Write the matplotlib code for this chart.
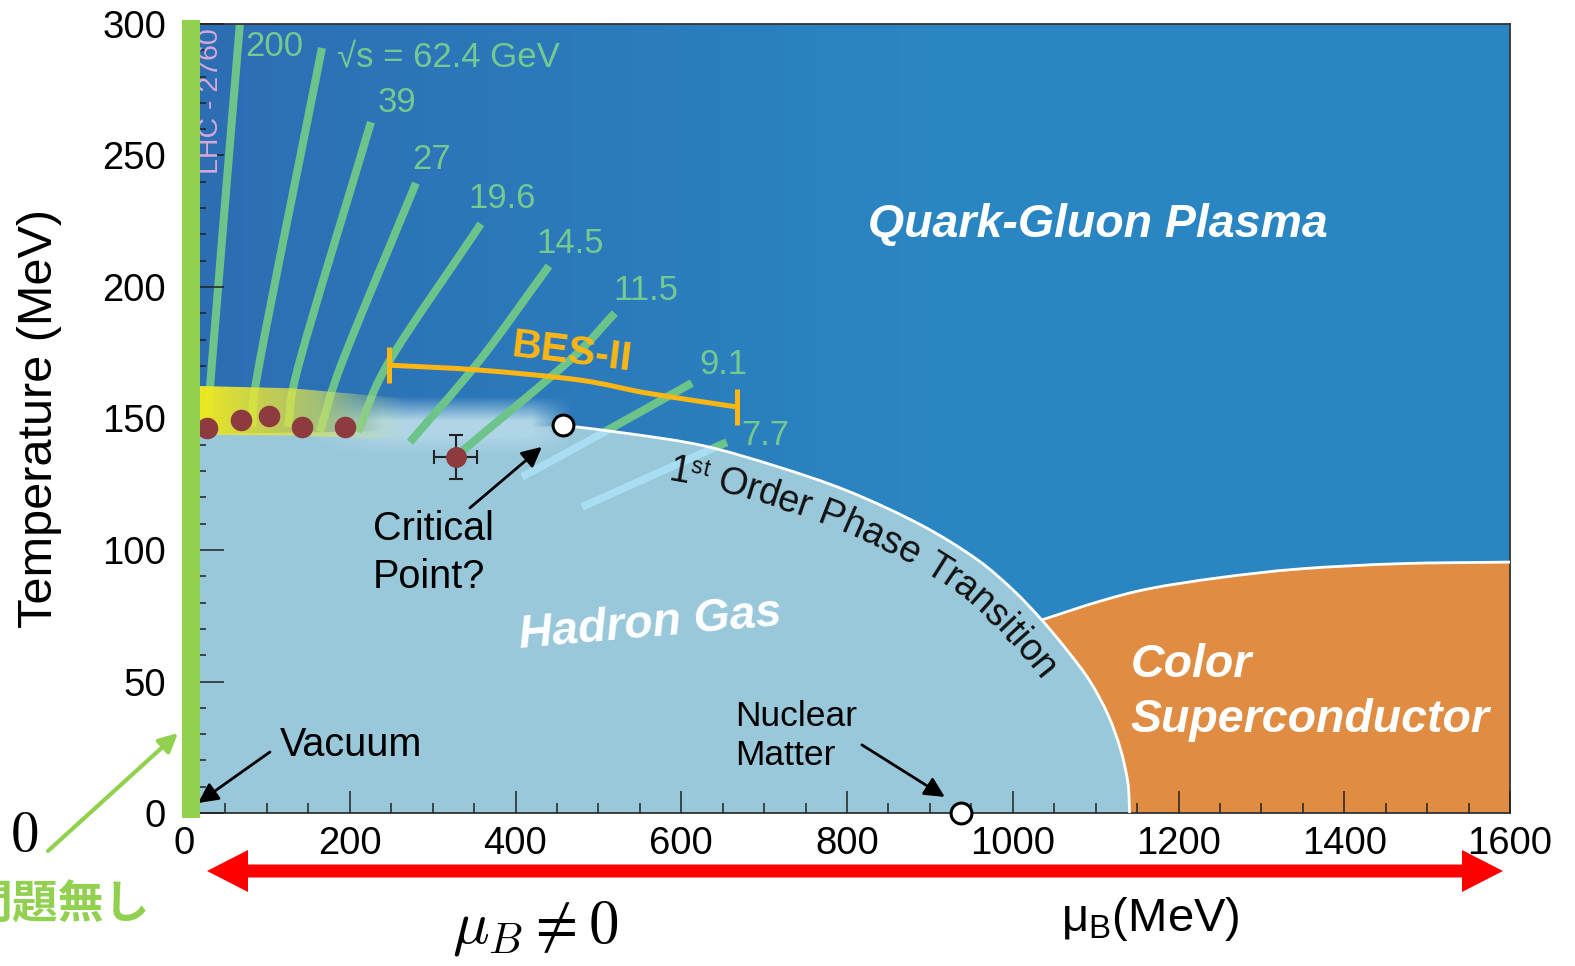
import numpy as np
import matplotlib
matplotlib.use('Agg')
import matplotlib.pyplot as plt
from matplotlib.patches import Polygon, Rectangle, FancyArrow, PathPatch
from matplotlib.path import Path
from matplotlib.ticker import MultipleLocator
from matplotlib.font_manager import FontProperties
from matplotlib.colors import to_rgb

plt.rcParams['font.family'] = ['Liberation Sans', 'DejaVu Sans']

# ---- values (mu_B and T in MeV) ----
# freeze-out trajectories of the beam energy scan, points bottom -> top
line_labels = ['200', '√s = 62.4 GeV', '39', '27', '19.6', '14.5', '11.5', '9.1', '7.7']
line_mu = [[29, 34, 67.6], [82, 91.7, 166.5], [125.5, 140, 225.6], [164, 191.8, 279.9],
           [209.9, 248.5, 358.3], [272.6, 357, 440.3], [333, 465.6, 519.9],
           [407.7, 489.7, 612.8], [480, 567.5, 655]]
line_T = [[149.4, 172.2, 300.8], [146.8, 172.2, 290.9], [146.8, 172.2, 262.7], [144.9, 172.2, 239.5],
          [144.9, 172.2, 224], [141, 172.2, 208], [136.9, 172.2, 190.1],
          [127.8, 141.8, 163.5], [116.3, 128.7, 141]]
label_mu = [73.6, 184.6, 234, 275, 342.6, 424.6, 518.7, 622.4, 673]
label_T = [291.3, 287.5, 270, 248.3, 233.8, 216.7, 198.5, 170.7, 143.7]

# crossover (mu < critical point) and first order line
cross_mu = [0, 200, 440]
cross_T = [144, 145, 147]
phase_mu = [455, 538, 626, 714, 802, 890, 956, 1000, 1035, 1066, 1093, 1115, 1130, 1139, 1141]
phase_T = [147.5, 144.2, 139.7, 131.9, 122.3, 109.4, 96.6, 84.9, 73.4, 61.7, 50.2, 37.3, 24.3,
           11.4, 0]
# upper edge of the colour superconductor
csc_mu = [1035, 1105, 1165, 1250, 1346, 1467, 1600]
csc_T = [73.4, 80.5, 85.3, 89.5, 92.8, 94.8, 95.4]

# freeze-out points
fo_mu = [27.7, 68.8, 102.5, 142.3, 194.2]
fo_T = [146.4, 149.4, 151, 146.8, 146.8]
est_mu, est_T, est_xerr, est_yerr = 328, 135.4, 26, 8.4
crit_mu, crit_T = 457, 147.5
nuc_mu, nuc_T = 938, 0

# BES-II range bracket
bes_mu = [247, 357, 478, 558, 667]
bes_T = [170.3, 168.4, 164.6, 159.7, 154.4]

blue_qgp = '#2A86C2'
blue_hg = '#99C8DB'
orange = '#E08C42'
green = '#6CC48A'
green_txt = '#74C98F'
lime = '#92D050'
gold = '#FBB614'


def smooth(mu, T):
    # Catmull-Rom spline through the read points, as Bezier segments
    p = np.column_stack([mu, T]).astype(float)
    ext = np.vstack([2 * p[0] - p[1], p, 2 * p[-1] - p[-2]])
    verts, codes = [p[0]], [Path.MOVETO]
    for i in range(len(p) - 1):
        p0, p1, p2, p3 = ext[i], ext[i + 1], ext[i + 2], ext[i + 3]
        verts += [p1 + (p2 - p0) / 6, p2 - (p3 - p1) / 6, p2]
        codes += [Path.CURVE4] * 3
    return verts, codes


fig = plt.figure(figsize=(15.75, 9.66), dpi=100)
ax = fig.add_axes([184 / 1575, 1 - 813 / 966, (1510 - 184) / 1575, (813 - 24) / 966])

# background of the QGP: a bit darker at small mu
w = np.clip(np.linspace(0, 1600, 400) / 900, 0, 1)
c0, c1 = np.array(to_rgb('#2D6DB4')), np.array(to_rgb(blue_qgp))
bg = c0[None, :] * (1 - w[:, None]) + c1[None, :] * w[:, None]
ax.imshow(bg[None, :, :], extent=[0, 1600, 0, 300], origin='lower', aspect='auto', zorder=0)

# colour superconductor (its left side is hidden under the hadron gas)
cv, cc = smooth(csc_mu, csc_T)
cv += [(1600, 0), (1000, 0), (1000, csc_T[0]), (0, 0)]
cc += [Path.LINETO, Path.LINETO, Path.LINETO, Path.CLOSEPOLY]
ax.add_patch(PathPatch(Path(cv, cc), facecolor=orange, edgecolor='none', zorder=0.9))

# hadron gas
pv, pc = smooth(phase_mu, phase_T)
hv = list(zip(cross_mu, cross_T)) + pv + [(0, 0), (0, 0)]
hc = [Path.MOVETO] + [Path.LINETO] * (len(cross_mu) - 1) + [Path.LINETO] + pc[1:] + \
     [Path.LINETO, Path.CLOSEPOLY]
ax.add_patch(PathPatch(Path(hv, hc), facecolor=blue_hg, edgecolor='none', zorder=1))

# soft crossover haze
hz_mu = np.linspace(150, 470, 160)
hz_T = np.linspace(136, 160, 120)
a_T = np.interp(hz_T, [136, 143, 149, 158], [0, 1, 1, 0])
a_mu = np.interp(hz_mu, [150, 240, 420, 470], [0, 1, 1, 0])
haze = np.zeros((len(hz_T), len(hz_mu), 4))
haze[..., :3] = to_rgb('#B0D5E6')
haze[..., 3] = a_T[:, None] * a_mu[None, :]
ax.imshow(haze, extent=[150, 470, 136, 160], origin='lower', aspect='auto', zorder=1.5,
          interpolation='bilinear')

# freeze-out lines
cv2, cc2 = smooth(phase_mu, phase_T)
clip_path = Path([(380, 0), (380, 147)] + cv2 + [(380, 0)],
                 [Path.MOVETO, Path.LINETO, Path.LINETO] + cc2[1:] + [Path.CLOSEPOLY])
clip_patch = PathPatch(clip_path, transform=ax.transData)
for mu, T in zip(line_mu, line_T):
    v, c = smooth(mu, T)
    ax.add_patch(PathPatch(Path(v, c), fill=False, edgecolor=green, lw=5.8, capstyle='butt',
                           zorder=2))
    lb = ax.add_patch(PathPatch(Path(v, c), fill=False, edgecolor='#A8DDF3', lw=5.8,
                                capstyle='butt', zorder=2.2))
    lb.set_clip_path(clip_patch)
for lab, m, t in zip(line_labels, label_mu, label_T):
    ax.text(m, t, lab, color=green_txt, fontsize=25, ha='left', va='center', zorder=6)
ax.text(32.6, 270.7, 'LHC - 2760', color='#D6A8D8', fontsize=20.5, rotation=90,
        ha='center', va='center', zorder=6)

# yellow band of the crossover
yb_mu = np.linspace(0, 270, 200)
yb = np.zeros((1, len(yb_mu), 4))
for k, (ca, cb, cd) in enumerate(zip(to_rgb('#F5EE18'), to_rgb('#E6E540'), to_rgb('#C0E6A0'))):
    yb[0, :, k] = np.interp(yb_mu, [0, 120, 270], [ca, cb, cd])
yb[0, :, 3] = np.interp(yb_mu, [0, 40, 160, 270], [1, 0.93, 0.68, 0])
im = ax.imshow(yb, extent=[0, 270, 140, 164], origin='lower', aspect='auto', zorder=3,
               interpolation='bilinear')
band = Polygon([(0, 162.5), (130, 161.5), (270, 157.5), (270, 142), (130, 143.5), (0, 144)],
               closed=True, transform=ax.transData)
im.set_clip_path(band)

ax.set_xlim(0, 1600)
ax.set_ylim(0, 300)

# phase boundaries
ax.add_patch(PathPatch(Path(*smooth(phase_mu, phase_T)), fill=False, edgecolor='white', lw=2,
                       zorder=4))
ax.add_patch(PathPatch(Path(*smooth(csc_mu, csc_T)), fill=False, edgecolor='white', lw=2,
                       zorder=4))

# BES-II bracket
ax.add_patch(PathPatch(Path(*smooth(bes_mu, bes_T)), fill=False, edgecolor=gold, lw=3.6,
                       zorder=4.5))
for m, t in [(bes_mu[0], bes_T[0]), (bes_mu[-1], bes_T[-1])]:
    ax.plot([m, m], [t - 6.8, t + 6.8], color=gold, lw=3.6, solid_capstyle='butt', zorder=4.5)
ax.text(468, 175.3, 'BES-II', color=gold, fontsize=29.5, fontweight='bold', rotation=-7,
        ha='center', va='center', zorder=6)

# points
ax.plot(fo_mu, fo_T, 'o', color='#8E3B3F', ms=14.5, zorder=5)
ax.errorbar(est_mu, est_T, xerr=est_xerr, yerr=est_yerr, fmt='o', ms=14, color='#8E3B3F',
            ecolor='#222222', elinewidth=1.5, capsize=5, capthick=1.5, zorder=5)
ax.plot([crit_mu, nuc_mu], [crit_T, nuc_T], 'o', ms=15, mfc='white', mec='black', mew=2.2,
        zorder=5.5, clip_on=False)

# region names
ax.text(1103, 223.5, 'Quark-Gluon Plasma', color='white', fontsize=33.5, fontweight='bold',
        style='italic', ha='center', va='center', zorder=6)
ax.text(562, 71.5, 'Hadron Gas', color='white', fontsize=33.5, fontweight='bold',
        style='italic', rotation=5, ha='center', va='center', zorder=6)
ax.text(1142, 56.3, 'Color', color='white', fontsize=33.5, fontweight='bold',
        style='italic', ha='left', va='center', zorder=6)
ax.text(1142, 35.4, 'Superconductor', color='white', fontsize=33.5, fontweight='bold',
        style='italic', ha='left', va='center', zorder=6)

# pointers
arrow = dict(arrowstyle='-|>', color='black', lw=2, mutation_scale=30, shrinkA=0, shrinkB=0)
ax.text(228, 108, 'Critical', fontsize=28.5, ha='left', va='center', zorder=6)
ax.text(228, 89.7, 'Point?', fontsize=28.5, ha='left', va='center', zorder=6)
ax.annotate('', xy=(431.8, 139.2), xytext=(345, 116), arrowprops=arrow, zorder=6)
ax.text(115.8, 25.9, 'Vacuum', fontsize=28.5, ha='left', va='center', zorder=6)
ax.annotate('', xy=(16.9, 3.8), xytext=(103.7, 23.2), arrowprops=arrow, zorder=6)
ax.text(664.7, 36.6, 'Nuclear', fontsize=25.5, ha='left', va='center', zorder=6)
ax.text(664.7, 22, 'Matter', fontsize=25.5, ha='left', va='center', zorder=6)
ax.annotate('', xy=(918, 6.1), xytext=(818, 25.9), arrowprops=arrow, zorder=6)

# axes styling
ax.xaxis.set_major_locator(MultipleLocator(200))
ax.xaxis.set_minor_locator(MultipleLocator(50))
ax.yaxis.set_major_locator(MultipleLocator(50))
ax.yaxis.set_minor_locator(MultipleLocator(10))
ax.set_axisbelow(False)
ax.tick_params(which='both', direction='in', color='#222222', width=1.1, top=False, right=False)
ax.tick_params(axis='x', which='major', length=16, pad=9, labelsize=27.5)
ax.tick_params(axis='x', which='minor', length=7)
ax.tick_params(axis='y', which='major', length=29, pad=13, labelsize=27.5)
ax.tick_params(axis='y', which='minor', length=16)
for side in ['top', 'right', 'bottom', 'left']:
    ax.spines[side].set_color('#333333')
    ax.spines[side].set_linewidth(1.3)
ax.set_ylabel('Temperature (MeV)', fontsize=35, va='center')
ax.yaxis.set_label_coords(-0.1086, 0.5)
ax.set_xlabel('μ$_{\\mathregular{B}}$(MeV)', fontsize=34, va='center')
ax.xaxis.set_label_coords(0.7285, -0.134)

# green bar on the T axis (mu_B = 0)
ax.add_patch(Rectangle((-2.5, -2), 21.8, 303.5, facecolor=lime, edgecolor='none',
                       clip_on=False, zorder=8))

# "1st Order Phase Transition" written along the line
renderer = fig.canvas.get_renderer()


def text_width(s, size):
    prop = FontProperties(family=['Liberation Sans', 'DejaVu Sans'], size=size)
    w0 = renderer.get_text_width_height_descent('|', prop, ismath=False)[0]
    w1 = renderer.get_text_width_height_descent(s + '|', prop, ismath=False)[0]
    return w1 - w0


xy = ax.transData.transform_path(Path(*smooth(phase_mu, phase_T))).to_polygons(closed_only=False)[0]
seg = np.hypot(np.diff(xy[:, 0]), np.diff(xy[:, 1]))
s = np.concatenate([[0], np.cumsum(seg)])
keep = np.concatenate([[True], seg > 1e-6])
xy, s = xy[keep], s[keep]
sd = np.linspace(0, s[-1], 800)
xs = np.interp(sd, s, xy[:, 0])
ys = np.interp(sd, s, xy[:, 1])
kw = 21
ker = np.ones(kw) / kw
xs = np.convolve(np.pad(xs, kw // 2, mode='edge'), ker, mode='valid')
ys = np.convolve(np.pad(ys, kw // 2, mode='edge'), ker, mode='valid')
tx, ty = np.gradient(xs), np.gradient(ys)
nn = np.hypot(tx, ty)
tx, ty = tx / nn, ty / nn
dist = 40
ox, oy = xs + dist * ty, ys - dist * tx
so = np.concatenate([[0], np.cumsum(np.hypot(np.diff(ox), np.diff(oy)))])
pos = so[np.argmax(ox >= 667)]
inv = ax.transData.inverted()
for piece, size, lift in [('1', 27, 0), ('st', 16.5, 11.5), (' Order Phase Transition', 27, 0)]:
    for i, ch in enumerate(piece):
        adv = text_width(piece[:i], size) if i else 0
        if ch == ' ':
            continue
        wch = text_width(ch, size)
        sc = pos + adv
        px, py = np.interp(sc, so, ox), np.interp(sc, so, oy)
        mx = np.interp(sc + wch / 2, so, tx)
        my = np.interp(sc + wch / 2, so, ty)
        px -= lift * np.interp(sc, so, ty)
        py += lift * np.interp(sc, so, tx)
        dm, dt = inv.transform((px, py))
        ax.text(dm, dt, ch, fontsize=size, color='#111111', rotation=np.degrees(np.arctan2(my, mx)),
                rotation_mode='anchor', ha='left', va='baseline', zorder=6)
    pos += text_width(piece, size)

# annotations outside the plot, in figure pixels
ov = fig.add_axes([0, 0, 1, 1], zorder=5)
ov.set_xlim(0, 1575)
ov.set_ylim(966, 0)
ov.axis('off')
ov.text(24, 836, r'$0$', math_fontfamily='cm', fontsize=41, ha='center', va='center')
ov.annotate('', xy=(178, 733), xytext=(48, 851),
            arrowprops=dict(arrowstyle='-|>', color=lime, lw=3, mutation_scale=28,
                            shrinkA=0, shrinkB=0))
ov.text(150, 906, '問題無し', fontsize=33, fontweight='bold', color=lime,
        family=['Noto Sans CJK JP', 'DejaVu Sans'], ha='right', va='center')
for dx in (648, -648):
    ov.add_patch(FancyArrow(855, 871, dx, 0, width=13, head_width=42, head_length=41,
                            length_includes_head=True, color='#FF0000', lw=0))
ov.text(535, 928, r'$\mu_B \neq 0$', math_fontfamily='cm', fontsize=44, ha='center', va='center')

fig.savefig('out.png', dpi=100)
